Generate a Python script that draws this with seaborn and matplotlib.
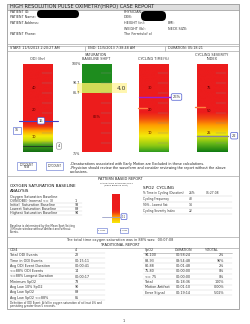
import numpy as np
import matplotlib.pyplot as plt
from matplotlib.colors import LinearSegmentedColormap
from matplotlib.patches import Rectangle, FancyBboxPatch
from matplotlib.ticker import NullLocator
import seaborn as sns

W, H = 250, 324

# ---- report header -------------------------------------------------------
title = "HIGH RESOLUTION PULSE OXIMETRY(HRPO) CASE REPORT"
left_fields = ["PATIENT ID:", "PATIENT Name:", "PATIENT Address:", "", "PATIENT Phone:"]
right_fields = ["PHYSICIAN:", "DOB:", "HEIGHT (in):", "WEIGHT (lb):", "The Ferrets(of o)"]
extra_fields = ["", "", "BMI:", "NECK SIZE:", ""]
start_txt = "START: 11/5/2013 2:20:27 AM"
end_txt = "END: 11/5/2013 7:38:48 AM"
dur_txt = "DURATION: 05:18:21"

# ---- gauges ----------------------------------------------------------------
odi_value = 16
odi_index = 4
odi_ticks = [10, 20, 40]
sat_top = 90.7
sat_bottom = 86.7
sat_shift = 4.0
sat_label = "86%"
cyc_time = 26
cyc_ticks = [10, 20, 30]
cyc_threshold = 21
sev_index = 22
sev_ticks = [25, 50, 75]
sev_threshold = 54

# ---- tables ------------------------------------------------------------------
notes = ["-Desaturations associated with Early Motion are Excluded in these calculations.",
         "-Physician should review the waveform and consider reviewing the report without the above",
         "exclusions."]
base_labels = ["Oxygen Saturation Baseline", "OVN(OBE) (normal <= 3)", "Initial  Saturation Baseline",
               "Lowest Saturation Baseline", "Highest Saturation Baseline"]
base_values = ["", "1", "93", "89", "94"]
cyc_labels = ["% Time in Cycling (Duration)", "Cycling Frequency", "90% - Lowest Sat", "Cycling Severity Index"]
cyc_values = ["26%", "48", "14", "22"]
cyc_extra = ["01:27:08", "", "", ""]
odi_labels = ["ODI4", "Total ODI Events", "Time in ODI Events", "Avg ODI Event Duration",
              "<=88% ODI Events", "<=88% Longest Duration", "Minimum SpO2", "Avg Low 10% SpO2",
              "Avg Low SpO2", "Avg Low SpO2 <=88%"]
odi_values = ["4", "22", "00:15:11", "00:00:41", "14", "00:00:17", "73", "90", "89", "85"]
spo2_bins = ["94-100", "88-93", "80-88", "75-80", "<= 75", "Total", "Motion Artifact", "Error Signal"]
spo2_durations = ["00:58:24", "03:54:48", "00:01:48", "00:00:00", "00:00:00", "05:18:36", "00:01:10", "00:19:14"]
spo2_pct = ["2%", "96%", "2%", "0%", "0%", "100%", "0.00%", "5.02%"]

sns.set_theme(style="white")
plt.rcParams["font.family"] = ["DejaVu Sans"]

RED = "#ec1c1c"
GREEN = "#1e8c1e"
TXT = "#333333"

fig = plt.figure(figsize=(W / 100, H / 100), dpi=100)
fig.patch.set_facecolor("white")
bg = fig.add_axes([0, 0, 1, 1])
bg.set_xlim(0, W)
bg.set_ylim(H, 0)
bg.axis("off")


def txt(x, y, s, size=2.4, **kw):
    kw.setdefault("color", TXT)
    kw.setdefault("va", "center")
    bg.text(x, y, s, fontsize=size, **kw)


def hline(y, x0=7, x1=239, c="#aaaaaa", lw=0.5):
    bg.plot([x0, x1], [y, y], color=c, lw=lw)


# page frame and title bar
bg.add_patch(Rectangle((7, 4), 232, 305, fill=False, ec="#999999", lw=0.6))
bg.add_patch(Rectangle((7, 4), 232, 5.5, fc="#dedede", ec="#999999", lw=0.5))
txt(10, 6.8, title, size=3.6, color="#222222")
for i, (a, b, c) in enumerate(zip(left_fields, right_fields, extra_fields)):
    y = 12 + i * 5.5
    txt(10, y, a)
    txt(124, y, b)
    txt(168, y, c)
bg.add_patch(FancyBboxPatch((37, 10), 42, 8, boxstyle="round,pad=0,rounding_size=4", fc="black", ec="none"))
bg.add_patch(FancyBboxPatch((141, 11), 25, 10, boxstyle="round,pad=0,rounding_size=4.5", fc="black", ec="none"))
hline(43.5)
bg.add_patch(Rectangle((7, 45.5), 232, 5, fill=False, ec="#aaaaaa", lw=0.5))
bg.plot([85, 85], [45.5, 50.5], color="#aaaaaa", lw=0.5)
bg.plot([165, 165], [45.5, 50.5], color="#aaaaaa", lw=0.5)
txt(10, 48, start_txt)
txt(88, 48, end_txt)
txt(168, 48, dur_txt)


def gauge_axes(x0, x1, y0=64, y1=152):
    ax = fig.add_axes([x0 / W, 1 - y1 / H, (x1 - x0) / W, (y1 - y0) / H])
    ax.set_xlim(0, 1)
    sns.despine(ax=ax, left=True, bottom=True)
    ax.patch.set_alpha(0)
    return ax


def no_ticks(ax):
    ax.set_xticks([])
    ax.set_yticks([])
    ax.yaxis.set_minor_locator(NullLocator())


def gradient(ax, stops):
    cmap = LinearSegmentedColormap.from_list("g", stops)
    ax.imshow(np.linspace(0, 1, 256)[:, None], cmap=cmap, origin="lower", aspect="auto",
              extent=[0, 1, 0, 1], transform=ax.transAxes, zorder=0)


def scale(ax, vals, pos, lo, hi):
    ax.set_yscale("function", functions=(lambda v: np.interp(v, vals, pos),
                                         lambda p: np.interp(p, pos, vals)))
    ax.set_ylim(lo, hi)


def ticks_inside(ax):
    for f in np.linspace(0.1, 0.9, 8):
        ax.plot([0.62, 0.95], [f, f], transform=ax.transAxes, color="#888888", lw=0.35, alpha=0.7)


def label_box(ax, x, y, s, ec="#4a5ad0", size=2.6):
    ax.text(x, y, s, fontsize=size, ha="center", va="center", color="#333333", clip_on=False,
            bbox=dict(boxstyle="round,pad=0.35", fc="white", ec=ec, lw=0.5))


# ODI gauge
gtitle = dict(size=2.5, ha="center")
txt(38, 58.5, "ODI (/hr)", **gtitle)
ax1 = gauge_axes(23, 53)
gradient(ax1, [(0, "#126e12"), (0.08, "#4aa020"), (0.13, "#c8dc10"), (0.18, "#f6ea08"),
               (0.24, "#ffa000"), (0.29, "#f03a10"), (0.33, RED), (1, RED)])
scale(ax1, [0, 10, 20, 40, 62], [0, 15, 42, 64, 88], 0, 62)
no_ticks(ax1)
ticks_inside(ax1)
for t in odi_ticks:
    ax1.text(0.3, t, str(t), fontsize=2.5, color="#550000", va="center")
ax1.plot([-0.15, 1.15], [odi_value, odi_value], color="#4040c8", lw=0.8, clip_on=False)
label_box(ax1, 0.6, odi_value, str(odi_value))
ax1.plot([0, 1], [odi_index, odi_index], color="#224422", lw=0.8)
label_box(ax1, 1.2, odi_index, str(odi_index), ec="#999999")
ax1.text(-0.2, 12.5, str(odi_value), fontsize=2.3, color="#333333", va="center", ha="center",
         clip_on=False, bbox=dict(boxstyle="square,pad=0.5", fc="white", ec="#6a7ad8", lw=0.5))

# saturation baseline shift
txt(96, 55.5, "SATURATION", **gtitle)
txt(96, 59, "BASELINE SHIFT", **gtitle)
ax2 = gauge_axes(82, 112)
scale(ax2, [75, sat_bottom, sat_top, 100], [0, 59, 69, 88], 75, 100)
no_ticks(ax2)
ax2.axhspan(75, sat_bottom, color=RED, lw=0)
ax2.axhspan(sat_bottom, sat_top, color="#9cc23a", lw=0)
ax2.axhspan(sat_top, 100, color=GREEN, lw=0)
ax2.axhspan(sat_bottom, sat_top, xmin=-0.17, xmax=1.5, color="#fff070", alpha=0.55, lw=0, clip_on=False)
ticks_inside(ax2)
ax2.text(-0.05, 100, "100%", fontsize=2.3, ha="right", va="center", color=TXT)
ax2.text(-0.05, 75, "75%", fontsize=2.3, ha="right", va="top", color=TXT)
ax2.text(-0.05, sat_top, f"{sat_top:.1f}", fontsize=2.3, ha="right", va="center", color=TXT)
ax2.text(-0.05, sat_bottom, f"{sat_bottom:.1f}", fontsize=2.3, ha="right", va="center", color=TXT)
ax2.text(1.3, (sat_top + sat_bottom) / 2, f"{sat_shift:.1f}", fontsize=4.2, ha="center", va="center", color="#333333")
ax2.text(0.35, 82, sat_label, fontsize=2.5, color="#550000", va="center")

# cycling time
txt(153, 58.5, "CYCLING TIME(%)", **gtitle)
ax3 = gauge_axes(139, 169)
gradient(ax3, [(0, "#2e9a1e"), (0.07, "#8cc814"), (0.18, "#f2ea0a"), (0.3, "#ffa200"),
               (0.38, "#f24a10"), (0.45, RED), (1, RED)])
ax3.set_ylim(1.5, 40.7)
no_ticks(ax3)
ticks_inside(ax3)
for t in cyc_ticks:
    ax3.text(0.3, t, str(t), fontsize=2.5, color="#550000", va="center")
ax3.plot([-0.05, 0.25], [cyc_threshold, cyc_threshold], color="#ff8040", lw=1.0, clip_on=False)
ax3.plot([0, 1.1], [cyc_time, cyc_time], color="#a020d0", lw=1.0, clip_on=False)
label_box(ax3, 1.25, cyc_time, f"{cyc_time}%")

# cycling severity index
txt(212, 55.5, "CYCLING SEVERITY", **gtitle)
txt(212, 59, "INDEX", **gtitle)
ax4 = gauge_axes(197, 228)
gradient(ax4, [(0, "#0e7a12"), (0.1, "#6cba18"), (0.2, "#f0ea0a"), (0.3, "#ffa000"),
               (0.38, "#f24a10"), (0.45, RED), (1, RED)])
ax4.set_ylim(3.9, 101.7)
no_ticks(ax4)
ticks_inside(ax4)
for t in sev_ticks:
    ax4.text(0.3, t, str(t), fontsize=2.5, color="#550000", va="center")
ax4.plot([-0.05, 0.25], [sev_threshold, sev_threshold], color="#ff8040", lw=1.0, clip_on=False)
ax4.plot([0, 1.0], [sev_index, sev_index], color="#888899", lw=1.0, clip_on=False)
label_box(ax4, 1.2, sev_index, str(sev_index))

# buttons + notes
for (x0, x1), lines in zip([(17, 36), (46, 63)], [["LOYCOUNT", "NEW"], ["LOYCOUNT"]]):
    bg.add_patch(Rectangle((x0, 162), x1 - x0, 8, fill=False, ec="#7a8ad8", lw=0.5))
    for j, s in enumerate(lines):
        txt((x0 + x1) / 2, 164.5 + j * 3 + (1.5 if len(lines) == 1 else 0), s, size=1.9, ha="center")
for i, s in enumerate(notes):
    txt(70, 164 + i * 4, s, size=2.4, color="#222222")

# pattern based report
hline(176)
txt(120, 179, "PATTERN BASED REPORT", size=2.6, ha="center", color="#222222")
txt(10, 186, "OXYGEN SATURATION BASELINE", size=3.0, color="#111111")
txt(10, 190.5, "ANALYSIS", size=3.0, color="#111111")
txt(116, 183, "SATURATION BASELINE SHIFT", size=1.6, ha="center")
txt(116, 185.5, "(Sleep Baseline Shift)", size=1.6, ha="center")
txt(143, 188, "SPO2  CYCLING", size=3.0, color="#111111")
for i, (a, b) in enumerate(zip(base_labels, base_values)):
    y = 197 + i * 4
    txt(10, y, a)
    txt(75, y, b)
    if i:
        hline(y + 2, 10, 82, "#cccccc", 0.3)
for i, (a, b, c) in enumerate(zip(cyc_labels, cyc_values, cyc_extra)):
    y = 193 + i * 6
    txt(143, y, a, size=2.1)
    txt(189, y, b, size=2.2)
    txt(206, y, c, size=2.2)
    hline(y + 2.5, 143, 232, "#cccccc", 0.3)
for i, s in enumerate(["Baseline is determined by the Mean Spot Setting",
                       "3 Minute window without Artifact and without",
                       "Events."]):
    txt(10, 226 + i * 3, s, size=1.9)

# mini severity bar
ax5 = gauge_axes(112, 120, 194, 223)
gradient(ax5, [(0, "#f6ea08"), (0.2, "#ffa000"), (0.35, "#f03a10"), (0.45, RED), (1, RED)])
ax5.set_ylim(0, 100)
no_ticks(ax5)
ax5.plot([-1.2, 1.0], [sev_index, sev_index], color="#9aa0c8", lw=0.6, clip_on=False)
label_box(ax5, 1.5, sev_index, "1:1", size=1.8)
for x0, x1 in [(97, 107), (120, 128)]:
    bg.add_patch(Rectangle((x0, 228), x1 - x0, 5, fill=False, ec="#7a8ad8", lw=0.5))
    txt((x0 + x1) / 2, 230.5, "1 hour", size=1.6, ha="center")

# traditional report
hline(237)
txt(120, 240, "The total time oxygen saturation was in 88% was:  00:07:08", size=2.5, ha="center")
txt(120, 245, "TRADITIONAL REPORT", size=2.6, ha="center", color="#222222")
hline(247.5)
for i, (a, b) in enumerate(zip(odi_labels, odi_values)):
    y = 250 + i * 5.3
    txt(10, y, a)
    txt(75, y, b)
    hline(y + 2.5, 10, 105, "#cccccc", 0.3)
txt(10, 303, "Definition of ODI Event: A fall in oxygen saturation of at least 4% and", size=1.9)
txt(10, 306.5, "persisting greater than 5 seconds.", size=1.9)
txt(145, 250, "SpO2")
txt(175, 250, "DURATION")
txt(205, 250, "%TOTAL")
hline(252.5, 143, 232, "#999999", 0.4)
for i, (a, b, c) in enumerate(zip(spo2_bins, spo2_durations, spo2_pct)):
    y = 255.5 + i * 5.3
    txt(145, y, a)
    txt(176, y, b)
    txt(224, y, c, ha="right")
    hline(y + 2.5, 143, 232, "#cccccc", 0.3)
txt(124, 321, "1", ha="center")

fig.savefig("out.png", dpi=100, facecolor="white")
